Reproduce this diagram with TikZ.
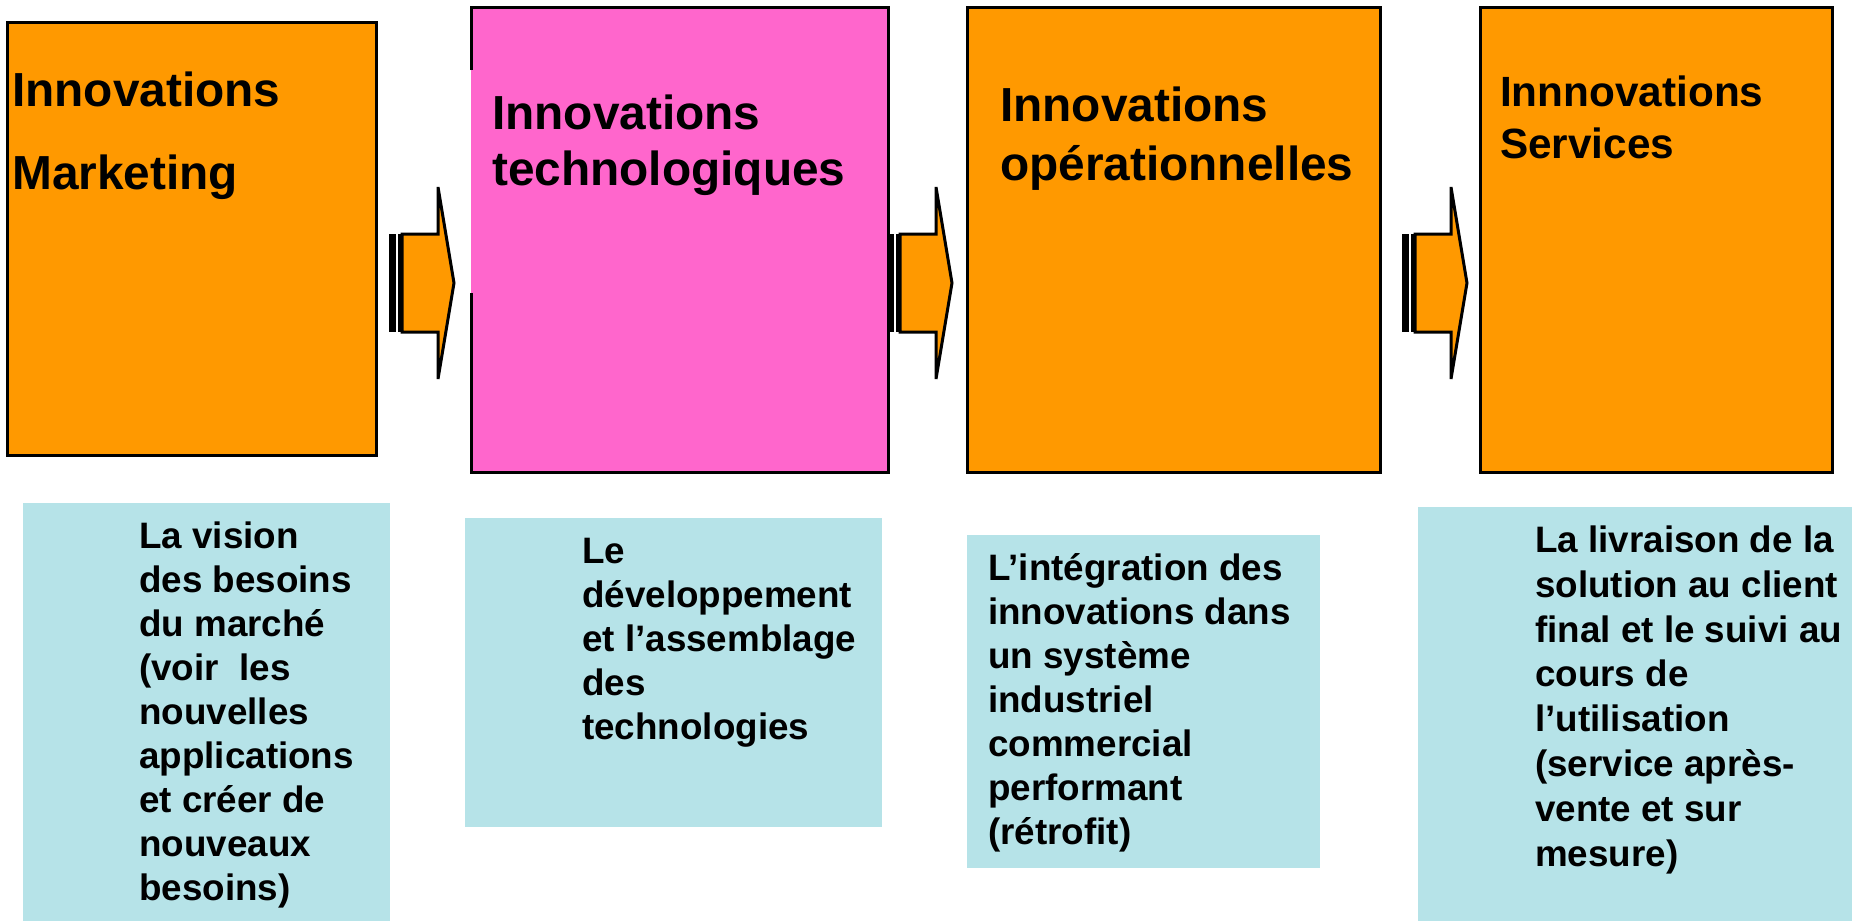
\documentclass[tikz,border=0pt]{standalone}
\usepackage{fontspec}
\setmainfont{Liberation Sans}
\usetikzlibrary{calc}
\definecolor{orng}{HTML}{FF9900}
\definecolor{pnk}{HTML}{FF66CC}
\definecolor{lblue}{HTML}{B6E3E8}
\tikzset{
  box/.style={draw=black, line width=3pt, anchor=north west, inner sep=0pt, outer sep=0pt},
  note/.style={fill=lblue, anchor=north west, inner sep=0pt, outer sep=0pt},
  ttl/.style={anchor=base west, align=left, inner sep=0pt, font=\bfseries\fontsize{47.8}{56}\selectfont},
  txt/.style={anchor=base west, align=left, inner sep=0pt, font=\bfseries\fontsize{36.8}{44}\selectfont},
  arrowbody/.style={fill=orng, draw=black, line width=3pt, line join=miter},
  stripe/.style={fill=black}
}
\begin{document}
\begin{tikzpicture}[x=1pt,y=-1pt]
\useasboundingbox (0,0) rectangle (1852,921);
% top boxes
\node[box, fill=orng, minimum width=369pt, minimum height=433pt] (b1) at (7,22) {};
\node[box, draw=none, fill=pnk, minimum width=417pt, minimum height=465pt] (b2) at (471,7) {};
\draw[line width=3pt, line join=miter] (471,70) |- (b2.north east) -- (b2.south east) -| (471,293);
\node[box, fill=orng, minimum width=413pt, minimum height=465pt] (b3) at (967,7) {};
\node[box, fill=orng, minimum width=352pt, minimum height=465pt] (b4) at (1480,7) {};
% titles (base anchor = baseline of the last line)
\node[ttl, font=\bfseries\fontsize{47.8}{83}\selectfont] (t1) at (12,189) {Innovations\\Marketing};
\node[ttl] (t2) at (492,185) {Innovations\\technologiques};
\node[ttl, font=\bfseries\fontsize{47.8}{59}\selectfont] (t3) at (1000,180) {Innovations\\opérationnelles};
\node[ttl, font=\bfseries\fontsize{42.3}{52}\selectfont] (t4) at (1500,158) {Innnovations\\Services};
% block arrows
\foreach \x/\n in {389/a1, 887/a2, 1402/a3}{
  \coordinate (\n) at (\x,283);
  \fill[stripe] ($(\n)+(0,-49)$) rectangle ($(\n)+(7,49)$);
  \fill[stripe] ($(\n)+(9,-49)$) rectangle ($(\n)+(12,49)$);
  \draw[arrowbody] ($(\n)+(13,-49)$) -- ($(\n)+(49,-49)$) -- ($(\n)+(49,-96)$)
     -- ($(\n)+(65,0)$) -- ($(\n)+(49,96)$) -- ($(\n)+(49,49)$) -- ($(\n)+(13,49)$) -- cycle;
}
% lower notes
\node[note, minimum width=367pt, minimum height=418pt] (n1) at (23,503) {};
\node[note, minimum width=417pt, minimum height=309pt] (n2) at (465,518) {};
\node[note, minimum width=353pt, minimum height=333pt] (n3) at (967,535) {};
\node[note, minimum width=434pt, minimum height=414pt] (n4) at (1418,507) {};
\node[txt] (d1) at (139,900) {La vision\\des besoins\\du marché\\(voir\ \ les\\nouvelles\\applications\\et créer de\\nouveaux\\besoins)};
\node[txt] (d2) at (582,739) {Le\\développement\\et l’assemblage\\des\\technologies};
\node[txt] (d3) at (988,844) {L’intégration des\\innovations dans\\un système\\industriel\\commercial\\performant\\(rétrofit)};
\node[txt, font=\bfseries\fontsize{36.8}{44.8}\selectfont] (d4) at (1535,866) {La livraison de la\\solution au client\\final et le suivi au\\cours de\\l’utilisation\\(service après-\\vente et sur\\mesure)};
\end{tikzpicture}
\end{document}
